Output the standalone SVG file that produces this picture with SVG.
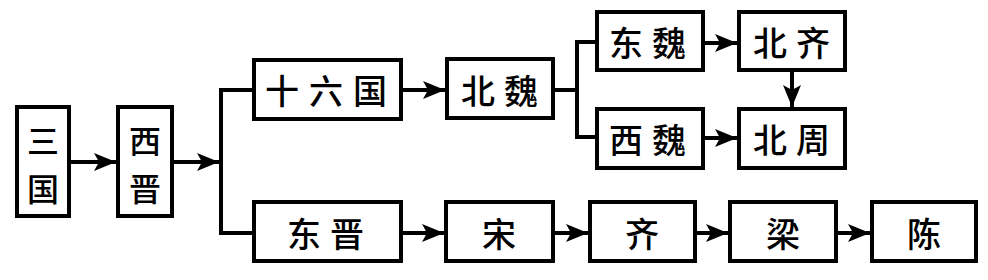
<svg xmlns="http://www.w3.org/2000/svg" width="988" height="280" viewBox="0 0 988 280">
<style>
.box{fill:#fff;stroke:#000;stroke-width:4}
.t{font-family:"Noto Sans CJK SC","Noto Sans CJK TC",sans-serif;font-size:34px;font-weight:500;fill:#000;text-anchor:middle;dominant-baseline:central}
.v{font-size:32px}
.w{letter-spacing:9px}
.c{fill:none;stroke:#000;stroke-width:4}
.a{marker-end:url(#arr)}
</style>
<defs>
<marker id="arr" markerUnits="userSpaceOnUse" markerWidth="22" markerHeight="20" viewBox="0 0 22 20" refX="22" refY="10" orient="auto">
<path d="M0,1 L22,10 L0,19 L5,10 Z" fill="#000"/>
</marker>
</defs>
<rect width="988" height="280" fill="#fff"/>
<g id="connectors">
<line class="c a" x1="71" y1="162" x2="116" y2="162"/>
<line class="c a" x1="174" y1="162" x2="219" y2="162"/>
<polyline class="c" points="252,90 221,90 221,233 252,233"/>
<line class="c a" x1="403" y1="90" x2="445" y2="90"/>
<polyline class="c" points="555,90 577,90"/>
<polyline class="c" points="595,42 577,42 577,137 595,137"/>
<line class="c a" x1="705" y1="43" x2="737" y2="43"/>
<line class="c a" x1="705" y1="138" x2="737" y2="138"/>
<line class="c a" x1="792" y1="72" x2="792" y2="107"/>
<line class="c a" x1="403" y1="233" x2="444" y2="233"/>
<line class="c a" x1="555" y1="233" x2="588" y2="233"/>
<line class="c a" x1="697" y1="233" x2="728" y2="233"/>
<line class="c a" x1="838" y1="233" x2="870" y2="233"/>
</g>
<g id="sanguo"><rect class="box" x="17" y="107" width="52" height="109"/><text class="t v" x="43" y="139">三</text><text class="t v" x="43" y="187">国</text></g>
<g id="xijin"><rect class="box" x="118" y="107" width="54" height="109"/><text class="t v" x="145" y="139">西</text><text class="t v" x="145" y="187">晋</text></g>
<g id="shiliuguo"><rect class="box" x="254" y="60" width="147" height="59"/><text class="t w" x="331" y="89" style="letter-spacing:10px">十六国</text></g>
<g id="beiwei"><rect class="box" x="447" y="59" width="106" height="59"/><text class="t w" x="504" y="89">北魏</text></g>
<g id="dongwei"><rect class="box" x="597" y="12" width="106" height="58"/><text class="t w" x="652" y="41">东魏</text></g>
<g id="beiqi"><rect class="box" x="739" y="12" width="106" height="58"/><text class="t w" x="796" y="41">北齐</text></g>
<g id="xiwei"><rect class="box" x="597" y="109" width="106" height="59"/><text class="t w" x="652" y="138">西魏</text></g>
<g id="beizhou"><rect class="box" x="739" y="109" width="106" height="59"/><text class="t w" x="796" y="138">北周</text></g>
<g id="dongjin"><rect class="box" x="254" y="202" width="147" height="59"/><text class="t w" x="330" y="232">东晋</text></g>
<g id="song"><rect class="box" x="446" y="202" width="107" height="59"/><text class="t" x="499" y="232">宋</text></g>
<g id="qi"><rect class="box" x="590" y="202" width="105" height="59"/><text class="t" x="642" y="232">齐</text></g>
<g id="liang"><rect class="box" x="730" y="202" width="106" height="59"/><text class="t" x="783" y="232">梁</text></g>
<g id="chen"><rect class="box" x="872" y="202" width="104" height="59"/><text class="t" x="924" y="232">陈</text></g>
</svg>
